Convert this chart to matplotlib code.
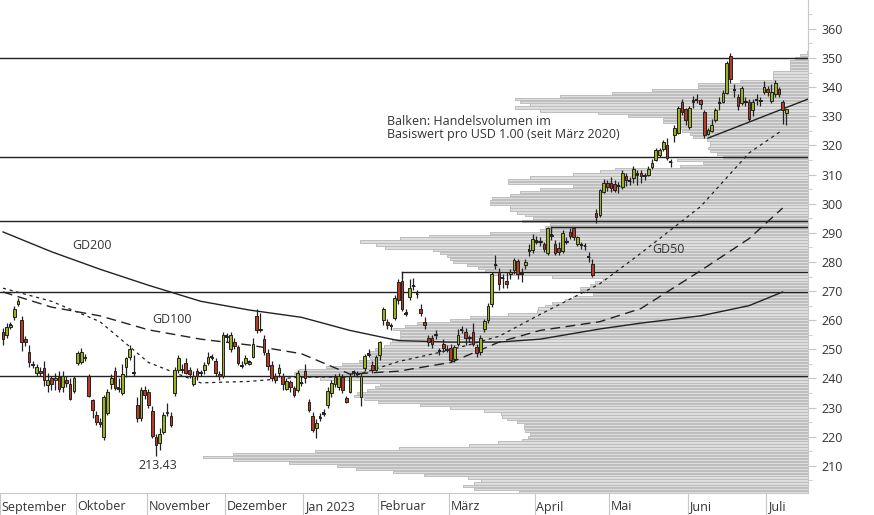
import matplotlib
matplotlib.use("Agg")
import matplotlib.pyplot as plt
import matplotlib.transforms as mtrans
import numpy as np

plt.rcParams['font.family'] = ['Open Sans', 'DejaVu Sans']

# ---- candle data (O, H, L, C) per trading day ----
candles = [
 (256,257.5,251.5,253.5),(255,259,254,257.7),(257.8,259.5,257,258.2),(261,265,260,264),(265.5,267.5,265,266.5),
 (260,261.5,249.5,252.5),(253.5,254.5,251,252.5),(249,251.5,244,245.6),(245,246,243.5,244.5),(242,245,241,244),
 (242.5,244,241,242),(243.5,246,237.5,239.5),(237.8,242,235.5,239.5),(240,241,236,238),(239.5,242,236,240),
 (240.5,242.5,235.5,236.5),(237,242.5,235.5,241),(239.5,241,237,238.5),(238,240,232.5,233),(235.7,241,235,240),
 (245.3,249.5,244.5,248.7),(245.6,250.5,245,249),(247.5,248.5,246,247),(241,241.5,233.5,234),(232.6,233,226.5,229.2),
 (227.5,229,224,225),(225,226.5,223.5,224.5),(220,234.5,219,233.8),(228,236.5,227.5,235.4),(238,241.5,236.5,240),
 (242.5,244,236,236.7),(236.5,240,235.5,236.9),(235,245,234.5,241.5),(244,247.5,240.5,247),(247.4,251.5,246.5,250),
 (242.2,248,241,241.8),(231,233.5,225,226.5),(226.5,237,225.5,236),(236,237.5,233,234.5),
 (235.5,236.5,230,231),(229,230.5,219.5,220.3),(220,221,213.43,217.3),(217.8,223,215.5,221),(221.8,228.5,221,227.5),
 (228.5,231.5,227,228),(227,228.5,223.5,224),(235,244,234,243),(243,248,242,247),(243.2,245,242,242.8),
 (245.3,247,241.5,242),(243,244,240,241.5),(238,242.5,237.5,241),(242.5,243.5,239.5,241),(242.2,243,241,241.8),
 (243,245.5,241.5,244.5),(245.3,249,244.5,247.4),(247.2,248.5,246.5,247.5),(246,247,241,242),(241.5,242.5,239.5,240.8),
 (241,256,240,255),
 (254.3,255.5,252.5,254.7),(250,256,249,255),(252.5,254,250,251),(250.8,251.5,244.5,245.3),(244.7,246,243.5,244.3),
 (245.3,248,244.5,247),(245.1,246.5,244.5,245.5),(247.4,254,247,252),(261.5,264,255.5,256.7),(256.9,262.5,256,256.7),
 (253.6,255,248,249),(248.8,250,243,244.3),(244.6,246,239,240),(241,242,238.5,239.6),(242,245,240.5,243.5),
 (241,242,236,238),(236.5,240,236,239),(238.8,239.5,235.5,237),(236.8,237.5,233.5,234.3),(235.9,243,235.5,242),
 (238.4,241,237.5,238.6),
 (242.6,245,238.5,240),(231.9,233,228.5,229.2),(227,228.5,221.5,222.3),(223,226,219.5,224.7),(226.6,228,225.5,226.8),
 (227.9,229.5,227,228.1),(230.9,237,230,235.7),(235,239.5,233.5,238.5),(238,241.5,237,240.5),(237,242,236,241),
 (240.5,241.5,235,236),(233.3,234,231.5,232),(235.5,242,235,240.8),(241.8,243,241,242.1),(241.8,242.5,240.5,241.6),
 (233.8,242,230.5,241),(243.6,248.5,242.5,247.7),(248.2,250,247.5,248.4),(244.6,246,242,243),(243,248,242.5,247.4),
 (248,253,246.5,252.5),(260,264.5,258.5,264),(259.4,260.5,257,258.4),(258.2,259,256.5,258),(260.8,268.5,260,267.6),
 (273,274,265.5,267),(273.5,275,263,263.9),(262.7,264,261.5,262.3),(268,274,267,271),(271.8,274.5,270.5,271.6),
 (269.1,270.5,267.5,268.9),(264,265.5,261.5,262.5),(259.4,261,257,258.4),(254,255,251,252.5),(254,255,250.5,252),
 (255.1,256.5,253.5,254.9),(249.5,250.5,248,249.3),(252,253.5,249,250.5),(250.1,251.5,249,249.9),
 (250.5,252,245.5,246.4),(246.7,251.5,245.5,250.8),(252,257,251,255),(256.6,258,255.5,256.8),(256,257.5,251.5,254),
 (254.1,255,252.5,253.9),(256,259,251,252),(250.8,252,247.5,248.8),(249,255,248,254),(257,260.5,256,259.7),
 (260,266,259,265),(265.6,276.5,264.5,276),(278.8,282.5,277.5,279.1),(276.6,278,270.5,272.4),(274.6,276,271,274.4),
 (273.5,276.5,271,272.4),(276,277.5,274,276.5),(277.3,281.5,276,280.7),(280.3,281,274,276),(276.1,278,273,275.9),
 (279,281,277.5,280),(283.8,286,282,284.1),(284,289.5,283,288),
 (286.9,289,286,287.1),(287.1,288.5,285.5,286.9),(286,287,283.5,284.6),(283,292,282.5,291.7),(288.9,290.5,287.5,289.1),
 (286,287.5,282.5,283),(284.8,287,282.5,283.4),(283.8,291,283,290),(287.1,288.5,286,286.9),(290.3,291.5,288,289),
 (291.7,292,287.5,288.6),(286,289,285.5,288.6),(285.9,287,284.5,285.7),(285.6,286.5,284,285.4),(281.8,283.5,280,281.6),
 (279.3,281,275,275.5),(296.8,298,293.5,295.4),(296,305,295.5,304.7),(304,308.5,303.5,307),(307,308,304.5,305.7),
 (307,309,304,305.5),(306.8,308,304,304.7),(306.1,307.5,303.5,305.9),(305.7,311.5,305,310.5),(309.5,310.5,306,308),
 (307.9,309,306.5,307.7),(308.8,313,307,312),(309.9,311.5,306.5,310.1),(310.5,311.5,307,309.5),(309.8,310.5,308,309.6),
 (310,313,309.5,311.9),(312.6,315.5,312,314),(315,319,314.5,318.4),(316.7,319,316,318.4),(318.8,322,318,321),
 (320,322.5,315,315.7),(314.4,315.5,312.5,314.2),(323.6,327,321,326),(324.3,333.5,324,333),(335,336,330.5,331.5),
 (332.5,333,327,328.7),
 (326.3,333.5,325.5,332.8),(334.9,337,333,335.1),(335.5,337.5,334.5,335.7),(335.6,336,332.5,334.3),(331.5,332,322.5,323.6),
 (324,326,323.5,325.3),(325,329,324.5,327),(328.7,333,328,332),(334.5,336.5,332,334.7),(335,339,334.5,338),
 (338,349,337.5,348.3),(350.8,351.6,341.5,342.8),(339.1,341,336.5,338.9),(336.6,337.5,332,333.5),(334.6,340.5,334,339.7),
 (335.1,336.5,333.5,334.9),(335,336,328.5,329),(332.2,336,330,335),(335.5,337.5,334,335.7),(335.5,336.5,333.5,335.3),
 (338.3,342,337.5,340),
 (339.3,340.5,337,338.3),(335.2,341,334.5,338.3),(337.6,342.5,336.5,341.4),(339.3,340,336.5,337.6),(335,335.5,327.5,332.2),
 (331,332.5,327,332.5),
]
opens = [c[0] for c in candles]
highs = [c[1] for c in candles]
lows = [c[2] for c in candles]
closes = [c[3] for c in candles]

month_labels = ["September", "Oktober", "November", "Dezember", "Jan 2023", "Februar",
                "März", "April", "Mai", "Juni", "Juli"]
days_per_month = [20, 19, 21, 21, 20, 19, 23, 20, 21, 21, 6]

# moving averages sampled at trading-day index
ma_idx = [0, 13, 26, 39, 53, 66, 80, 93, 106, 120, 133, 144, 160, 171, 187, 200, 209]
gd200 = [290.3, 283.5, 277.5, 272, 266.5, 263.5, 261, 256.5, 253, 252.5, 252.5, 253.5, 257, 259, 261.5, 265, 269.7]
gd100 = [269.7, 264.5, 261.5, 256.7, 253.5, 251.5, 248.5, 241.5, 242.5, 245.5, 252.5, 256.5, 259.5, 264, 277, 288, 298.5]
gd50 = [271, 266.5, 259.5, 245.5, 238.5, 239, 240.5, 240.5, 245.8, 249.8, 254.5, 262, 272.5, 283, 299, 317.4, 325.3]

# volume profile: price level -> relative volume
profile_start = 200
profile_vol = [240, 289, 334, 345, 334, 327, 340, 384, 415, 452, 471, 519, 575, 605, 575, 493, 409, 339, 310, 286,
               280, 278, 283, 284, 284, 291, 301, 306, 307, 324, 358, 388, 430, 444, 454, 451, 441, 433, 428, 448,
               488, 508, 514, 509, 482, 466, 449, 438, 437, 438, 433, 424, 418, 416, 408, 408, 408, 415, 403, 391,
               358, 338, 300, 271, 270, 263, 256, 243, 235, 215, 228, 228, 218, 213, 205, 256, 315, 323, 330, 341,
               355, 358, 361, 368, 375, 423, 432, 448, 408, 379, 318, 268, 263, 258, 286, 275, 283, 291, 298, 298,
               318, 318, 316, 298, 288, 268, 235, 300, 300, 278, 235, 208, 193, 128, 105, 131, 85, 91, 98, 100,
               98, 98, 101, 115, 118, 126, 130, 130, 145, 145, 180, 210, 268, 293, 278, 288, 293, 248, 196, 156,
               110, 110, 68, 35, 35, 35, 18, 18, 18, 18, 13, 8, 1]

hlines = [350, 316, 294.1, 269.7, 240.9]
res_lines = [(107, 276.6), (147, 292.0)]   # (start day, level)
trend = [(189, 322.5), (215.8, 335.9)]
low_label = 213.43

# ---- figure ----
fig = plt.figure(figsize=(8.74, 5.15), dpi=100)
ax2 = fig.add_axes([0, 22/515, 808/874, 493/515])
ax = fig.add_axes(ax2.get_position(), sharey=ax2)
ax.set_zorder(ax2.get_zorder() + 1)
ax.patch.set_visible(False)

N = len(candles)
xr = (-0.8, 215.8)
ymin, ymax = 200.7, 369.9

levels = np.arange(profile_start, profile_start + len(profile_vol))
ax2.barh(levels, profile_vol, height=0.78, left=0, color='#dedede', edgecolor='#bdbdbd', linewidth=0.7)
ax2.set_xlim(808, 0)
ax2.set_ylim(ymin, ymax)
ax2.axis('off')

x = np.arange(N)
o = np.array(opens); c = np.array(closes)
up = c >= o
ax.vlines(x, lows, highs, color='#222222', lw=0.9, zorder=3)
ax.bar(x[up], (c - o)[up], bottom=o[up], width=0.72, color='#9bb21e', edgecolor='#222222', lw=0.7, zorder=4)
ax.bar(x[~up], (o - c)[~up], bottom=c[~up], width=0.72, color='#b83a22', edgecolor='#222222', lw=0.7, zorder=4)
doji = np.abs(c - o) < 0.5
ax.hlines(c[doji], x[doji] - 0.38, x[doji] + 0.38, color='#222222', lw=1.4, zorder=4)

ax.plot(ma_idx, gd200, color='#222222', lw=1.0, zorder=2)
ax.plot(ma_idx, gd100, color='#222222', lw=1.0, dashes=(7, 4), zorder=2)
ax.plot(ma_idx, gd50, color='#222222', lw=0.9, dashes=(2.5, 3), zorder=2)

for h in hlines:
    ax.axhline(h, color='#222222', lw=1.0, zorder=2)
for d, lvl in res_lines:
    ax.plot([d, xr[1]], [lvl, lvl], color='#222222', lw=1.0, zorder=2)
    ax.plot([d, d], [lvl, highs[d]], color='#222222', lw=1.0, zorder=2)
ax.plot([trend[0][0], trend[1][0]], [trend[0][1], trend[1][1]], color='#222222', lw=1.0, zorder=2)

tc = '#333333'
ax.text(18.5, 285.8, "GD200", fontsize=9, color=tc, va='center')
ax.text(40, 260.1, "GD100", fontsize=9, color=tc, va='center')
ax.text(174, 284.1, "GD50", fontsize=9, color=tc, va='center')
ax.text(41.5, 210, f"{low_label:.2f}", fontsize=9, color=tc, ha='center', va='center')
ax.text(103, 326, "Balken: Handelsvolumen im\nBasiswert pro USD 1.00 (seit März 2020)",
        fontsize=9, color=tc, linespacing=1.05, va='center')

ax.set_xlim(*xr)
ax.set_ylim(ymin, ymax)
for s in ['left', 'top']:
    ax.spines[s].set_visible(False)
for s in ['right', 'bottom']:
    ax.spines[s].set_color('#c8c8c8')
ax.yaxis.tick_right()
ax.set_yticks(np.arange(210, 361, 10))
ax.set_yticks(np.arange(205, 366, 5), minor=True)
ax.tick_params(axis='y', which='major', length=6, color='#c8c8c8', labelsize=9, labelcolor=tc, pad=4)
ax.tick_params(axis='y', which='minor', length=3, color='#c8c8c8')

bounds = np.concatenate([[xr[0]], np.cumsum(days_per_month)[:-1] - 0.5])
ax.set_xticks(bounds)
ax.set_xticklabels([])
ax.tick_params(axis='x', length=22, color='#c8c8c8', direction='out')
trans = mtrans.blended_transform_factory(ax.transData, fig.transFigure)
for b, lab in zip(bounds, month_labels):
    ax.text(b + 0.5, 8/515, lab, transform=trans, fontsize=9, color=tc, va='center', ha='left')

fig.savefig("out.png", dpi=100)
